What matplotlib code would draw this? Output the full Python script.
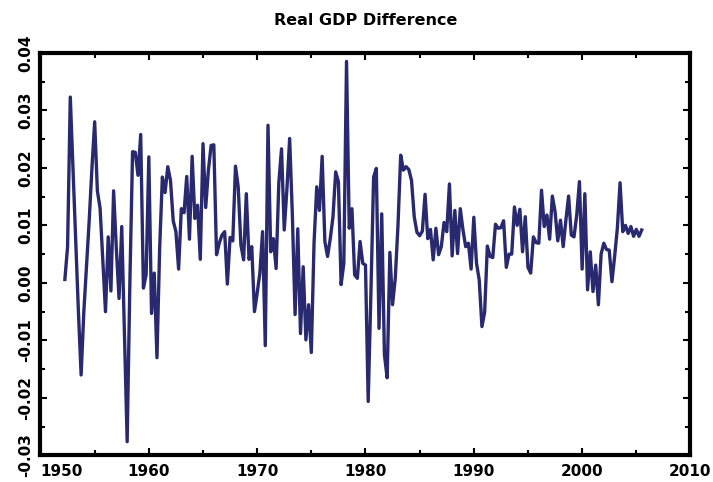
import matplotlib
matplotlib.use("Agg")
import matplotlib.pyplot as plt
import numpy as np

# Квартальные данные: первая точка 1952 Q2
start_year = 1952.25
gdp_diff = [
    0.0006, 0.0063, 0.0323, 0.0200, 0.0075, -0.0050, -0.0160, -0.0050, 0.0030, 0.0110,
    0.0200, 0.0280, 0.0160, 0.0130, 0.0040, -0.0050, 0.0080, -0.0014, 0.0160, 0.0060,
    -0.0027, 0.0098, -0.0090, -0.0276, 0.0000, 0.0228, 0.0227, 0.0187, 0.0258, -0.0009,
    0.0014, 0.0219, -0.0053, 0.0017, -0.0130, 0.0060, 0.0184, 0.0157, 0.0202, 0.0178,
    0.0108, 0.0089, 0.0024, 0.0129, 0.0122, 0.0185, 0.0076, 0.0220, 0.0112, 0.0135,
    0.0041, 0.0242, 0.0131, 0.0196, 0.0239, 0.0240, 0.0049, 0.0069, 0.0083, 0.0089,
    -0.0002, 0.0079, 0.0073, 0.0203, 0.0167, 0.0066, 0.0040, 0.0155, 0.0041, 0.0063,
    -0.0050, -0.0018, 0.0017, 0.0089, -0.0109, 0.0274, 0.0054, 0.0077, 0.0025, 0.0174,
    0.0233, 0.0092, 0.0164, 0.0251, 0.0118, -0.0055, 0.0094, -0.0088, 0.0028, -0.0099,
    -0.0038, -0.0121, 0.0069, 0.0167, 0.0126, 0.0220, 0.0072, 0.0046, 0.0077, 0.0115,
    0.0193, 0.0176, -0.0003, 0.0034, 0.0385, 0.0095, 0.0129, 0.0014, 0.0008, 0.0072,
    0.0034, 0.0031, -0.0206, -0.0018, 0.0184, 0.0199, -0.0079, 0.0120, -0.0125, -0.0165,
    0.0053, -0.0038, 0.0008, 0.0100, 0.0222, 0.0196, 0.0202, 0.0197, 0.0178, 0.0115,
    0.0088, 0.0082, 0.0090, 0.0154, 0.0077, 0.0093, 0.0040, 0.0095, 0.0049, 0.0063,
    0.0105, 0.0089, 0.0172, 0.0047, 0.0126, 0.0051, 0.0129, 0.0092, 0.0063, 0.0069,
    0.0024, 0.0114, 0.0034, 0.0005, -0.0076, -0.0051, 0.0064, 0.0046, 0.0044, 0.0102,
    0.0095, 0.0096, 0.0108, 0.0027, 0.0050, 0.0050, 0.0132, 0.0100, 0.0128, 0.0054,
    0.0115, 0.0027, 0.0017, 0.0080, 0.0070, 0.0069, 0.0161, 0.0098, 0.0118, 0.0076,
    0.0151, 0.0124, 0.0073, 0.0109, 0.0063, 0.0109, 0.0151, 0.0083, 0.0080, 0.0118,
    0.0176, 0.0024, 0.0155, -0.0012, 0.0054, -0.0015, 0.0031, -0.0038, 0.0050, 0.0069,
    0.0058, 0.0057, 0.0002, 0.0046, 0.0095, 0.0174, 0.0089, 0.0100, 0.0086, 0.0098,
    0.0081, 0.0093, 0.0081, 0.0092,
]
years = start_year + np.arange(len(gdp_diff)) / 4.0

x_ticks = [1950, 1960, 1970, 1980, 1990, 2000, 2010]
x_labels = ["1950", "1960", "1970", "1980", "1990", "2000", "2010"]
y_ticks = [-0.03, -0.02, -0.01, 0.00, 0.01, 0.02, 0.03, 0.04]
y_labels = ["-0.03", "-0.02", "-0.01", "0.00", "0.01", "0.02", "0.03", "0.04"]

fig = plt.figure(figsize=(7.13, 4.82), dpi=100)
ax = fig.add_axes([0.0568, 0.055, 0.9116, 0.8355])

ax.plot(years, gdp_diff, color="#28296e", linewidth=2.4, solid_joinstyle="round")

ax.set_xlim(1950, 2010)
ax.set_ylim(-0.03, 0.04)
ax.set_xticks(x_ticks)
ax.set_xticklabels(x_labels)
ax.set_xticks(np.arange(1955, 2010, 10), minor=True)
ax.set_yticks(y_ticks)
ax.set_yticklabels(y_labels, rotation=90, va="center")
ax.set_yticks(np.arange(-0.025, 0.04, 0.01), minor=True)

for lab in ax.get_xticklabels() + ax.get_yticklabels():
    lab.set_fontweight("bold")
    lab.set_fontsize(11)
ax.get_xticklabels()[0].set_horizontalalignment("left")

ax.tick_params(which="both", direction="in", top=True, right=True, width=1.5)
ax.tick_params(which="major", length=5)
ax.tick_params(which="minor", length=3.8)
ax.tick_params(axis="x", pad=6)
ax.tick_params(axis="y", pad=5)

for sp in ax.spines.values():
    sp.set_linewidth(3)

ax.set_title("Real GDP Difference", fontsize=11.5, fontweight="bold", pad=20)

fig.savefig("out.png", dpi=100)
